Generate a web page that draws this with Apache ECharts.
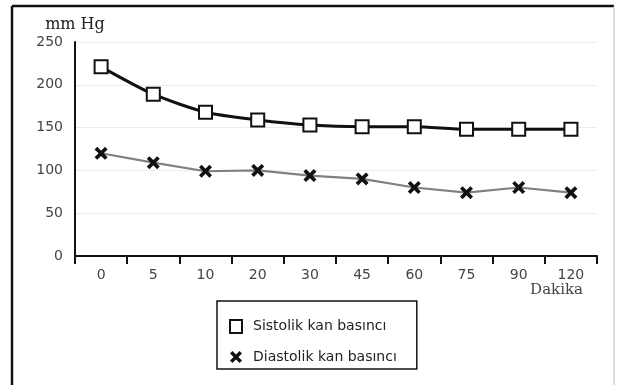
<!DOCTYPE html>
<html><head><meta charset="utf-8">
<script src="https://cdn.jsdelivr.net/npm/echarts@6/dist/echarts.min.js"></script>
<style>html,body{margin:0;padding:0;background:#fff}#c{width:621px;height:385px}</style>
</head><body><div id="c"></div>
<script>
const categories = ['0','5','10','20','30','45','60','75','90','120'];
const sistolik = [221, 189, 168, 159, 153, 151, 151, 148, 148, 148];
const diastolik = [120, 109, 99, 100, 94, 90, 80, 74, 80, 74];
const yTicks = [0, 50, 100, 150, 200, 250];

const X_PATH = 'path://M0,2 L2,0 L5,3 L8,0 L10,2 L7,5 L10,8 L8,10 L5,7 L2,10 L0,8 L3,5 Z';

const chart = echarts.init(document.getElementById('c'));
chart.setOption({
  animation: false,
  backgroundColor: '#fff',
  grid: {left: 75, right: 24, top: 42, bottom: 129, containLabel: false},
  xAxis: {
    type: 'category', data: categories, boundaryGap: true,
    axisLine: {lineStyle: {color: '#111', width: 2}},
    axisTick: {show: true, interval: 0, length: 8, inside: false, lineStyle: {color: '#111', width: 2}},
    axisLabel: {interval: 0, margin: 12, color: '#444', fontSize: 14, fontFamily: 'DejaVu Sans'},
    name: 'Dakika', nameLocation: 'end',
    nameTextStyle: {fontFamily: 'DejaVu Serif', fontSize: 15, color: '#444', align: 'right', verticalAlign: 'top', padding: [27, 0, 0, 0]},
    nameGap: -14
  },
  yAxis: {
    type: 'value', min: yTicks[0], max: yTicks[yTicks.length-1], interval: 50,
    axisLine: {show: true, lineStyle: {color: '#111', width: 2}},
    axisTick: {show: false},
    splitLine: {show: true, lineStyle: {color: '#ececec', width: 1}},
    axisLabel: {margin: 12, color: '#444', fontSize: 14, fontFamily: 'DejaVu Sans'},
    name: 'mm Hg', nameLocation: 'end', nameGap: 17,
    nameTextStyle: {fontFamily: 'DejaVu Serif', fontSize: 16, color: '#222', align: 'center', verticalAlign: 'middle'}
  },
  legend: {
    orient: 'vertical', left: 217, top: 301,
    padding: [18, 20, 5, 12], itemGap: 16, itemWidth: 12, itemHeight: 13,
    borderColor: '#111', borderWidth: 1.5, backgroundColor: '#fff',
    textStyle: {fontFamily: 'DejaVu Sans', fontSize: 14, color: '#222', padding: [0, 0, 0, 6], lineHeight: 14},
    data: [
      {name: 'Sistolik kan basıncı', icon: 'rect', itemStyle: {color: '#fff', borderColor: '#111', borderWidth: 2}},
      {name: 'Diastolik kan basıncı', icon: X_PATH, itemStyle: {color: '#111', borderWidth: 0}}
    ]
  },
  series: [
    {
      name: 'Sistolik kan basıncı', type: 'line', data: sistolik, smooth: 0.25,
      symbol: 'rect', symbolSize: 13,
      lineStyle: {color: '#111', width: 3},
      itemStyle: {color: '#fff', borderColor: '#111', borderWidth: 2}, z: 3
    },
    {
      name: 'Diastolik kan basıncı', type: 'line', data: diastolik,
      symbol: X_PATH, symbolSize: 13,
      lineStyle: {color: '#808080', width: 2.2},
      itemStyle: {color: '#111', borderWidth: 0}, z: 2
    }
  ],
  graphic: [
    {type: 'line', shape: {x1: 12, y1: 6, x2: 12, y2: 385}, style: {stroke: '#111', lineWidth: 2.5}},
    {type: 'line', shape: {x1: 12, y1: 6, x2: 614, y2: 6}, style: {stroke: '#111', lineWidth: 2.5}},
    {type: 'line', shape: {x1: 614, y1: 6, x2: 614, y2: 385}, style: {stroke: '#bbb', lineWidth: 1}}
  ]
});
</script></body></html>
